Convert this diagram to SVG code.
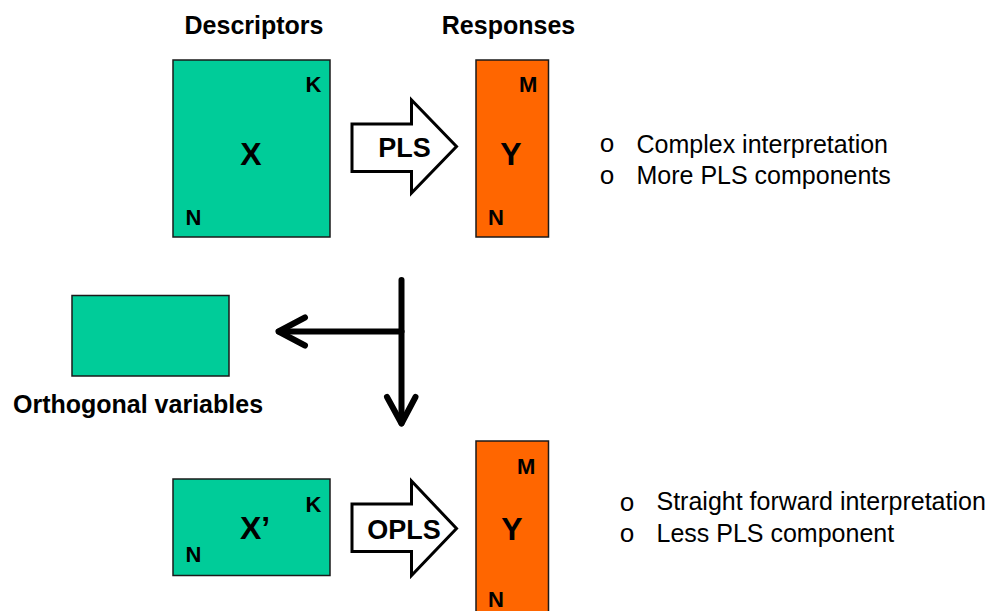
<svg xmlns="http://www.w3.org/2000/svg" width="991" height="611" viewBox="0 0 991 611">
<style>
.g{fill:#00cc99;stroke:#1a1a1a;stroke-width:1.5}
.o{fill:#ff6600;stroke:#1a1a1a;stroke-width:1.5}
.ar{fill:#ffffff;stroke:#000;stroke-width:3;stroke-linejoin:miter}
.b{font-family:"Liberation Sans",Arial,sans-serif;font-weight:bold;fill:#000}
.s{font-size:22px}
.big{font-size:32px}
.h{font-size:25px}
.t{font-family:"Liberation Sans",Arial,sans-serif;font-size:25px;fill:#000}
.bu{font-family:"Liberation Mono","Courier New",monospace;font-size:26px;fill:#000}
.c{fill:none;stroke:#000;stroke-width:6;stroke-linecap:round;stroke-linejoin:round}
</style>
<rect width="991" height="611" fill="#ffffff"/>
<text class="b h" x="254" y="34" text-anchor="middle">Descriptors</text>
<text class="b h" x="508.5" y="34" text-anchor="middle">Responses</text>
<g id="X">
<rect class="g" x="173" y="60" width="157" height="177"/>
<text class="b big" x="251" y="165" text-anchor="middle">X</text>
<text class="b s" x="305.5" y="91.5">K</text>
<text class="b s" x="185.5" y="225">N</text>
</g>
<g id="PLS">
<path class="ar" d="M352,124 L411.5,124 L411.5,100 L456.5,146.5 L411.5,193 L411.5,171.5 L352,171.5 Z"/>
<text class="b" style="font-size:27px" x="404.5" y="156.5" text-anchor="middle">PLS</text>
</g>
<g id="Y">
<rect class="o" x="476" y="60" width="72.5" height="177"/>
<text class="b big" x="511" y="165" text-anchor="middle">Y</text>
<text class="b s" x="519" y="91.5">M</text>
<text class="b s" x="488" y="225">N</text>
</g>
<g id="notes1">
<text class="bu" x="607" y="152" text-anchor="middle">o</text>
<text class="t" x="636.5" y="152.5">Complex interpretation</text>
<text class="bu" x="607" y="184" text-anchor="middle">o</text>
<text class="t" x="636.5" y="184">More PLS components</text>
</g>
<g id="orth">
<rect class="g" x="72" y="295.5" width="157" height="80.5"/>
<text class="b h" x="138" y="412.5" text-anchor="middle">Orthogonal variables</text>
</g>
<g id="connectors">
<path class="c" d="M401.5,280 L401.5,423"/>
<path class="c" d="M401.5,331.5 L279,331.5"/>
<path class="c" d="M305,317.5 L278.5,331.5 L305,345.5"/>
<path class="c" d="M387,397 L401.5,423.5 L415.5,397"/>
</g>
<g id="Xp">
<rect class="g" x="173" y="479" width="157" height="96.5"/>
<text class="b big" x="240" y="538.5">X’</text>
<text class="b s" x="305.5" y="511.5">K</text>
<text class="b s" x="185.5" y="561.5">N</text>
</g>
<g id="OPLS">
<path class="ar" d="M352,504 L411.5,504 L411.5,481 L456.5,528.5 L411.5,575.5 L411.5,551.5 L352,551.5 Z"/>
<text class="b" style="font-size:27px" x="404" y="538.5" text-anchor="middle">OPLS</text>
</g>
<g id="Y2">
<rect class="o" x="476" y="441" width="72.5" height="180"/>
<text class="b big" x="512" y="540" text-anchor="middle">Y</text>
<text class="b s" x="517" y="473.5">M</text>
<text class="b s" x="488" y="606.5">N</text>
</g>
<g id="notes2">
<text class="bu" x="627" y="511" text-anchor="middle">o</text>
<text class="t" x="656.5" y="510">Straight forward interpretation</text>
<text class="bu" x="627" y="541.5" text-anchor="middle">o</text>
<text class="t" x="656.5" y="541.5">Less PLS component</text>
</g>
</svg>
